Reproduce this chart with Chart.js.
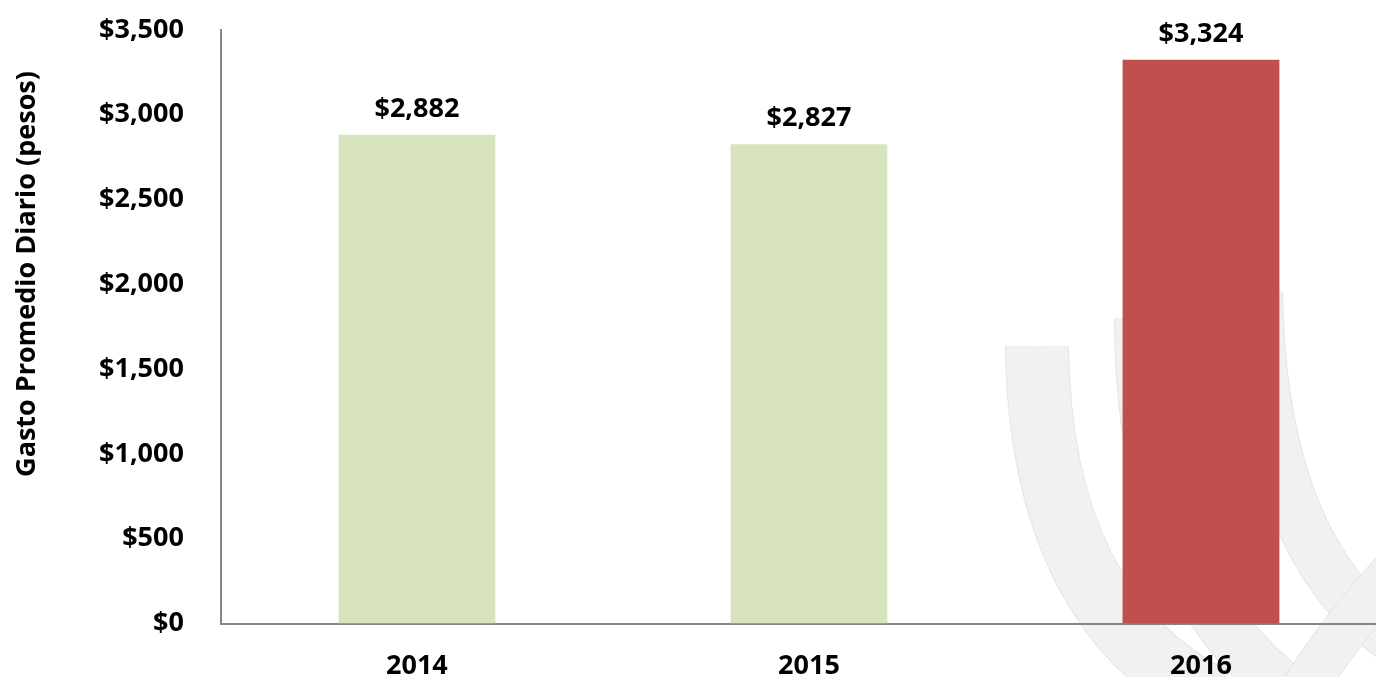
<!DOCTYPE html>
<html>
<head>
<meta charset="utf-8">
<script src="https://cdn.jsdelivr.net/npm/chart.js@4"></script>
<style>
  html, body { margin: 0; padding: 0; background: #fff; overflow: hidden; }
  #wrap { width: 1376px; height: 677px; overflow: hidden; }
  #inner { width: 1397px; height: 677px; }
</style>
</head>
<body>
<div id="wrap"><div id="inner"><canvas id="myChart" width="1397" height="677"></canvas></div></div>
<script>
const years = ['2014', '2015', '2016'];
const gasto = [2882, 2827, 3324];
const barColors = ['#d7e4bd', '#d7e4bd', '#c0504d'];
const yTicks = [0, 500, 1000, 1500, 2000, 2500, 3000, 3500];
const tituloY = 'Gasto Promedio Diario (pesos)';

const fuente = '"Open Sans", "Noto Sans", sans-serif';

function pesos(v) {
    return '$' + v.toLocaleString('en-US');
}

// marca de agua de fondo (arcos grises claros)
const marcaAgua = {
    id: 'marcaAgua',
    beforeDraw(chart) {
        const c = chart.ctx;
        c.save();
        const bandas = [
            [[1037, 346], [1040, 610], [1215, 700], 62],
            [[1140, 318], [1140, 590], [1300, 700], 50],
            [[1258, 292], [1262, 560], [1410, 650], 48],
            [[1300, 695], [1340, 630], [1400, 565], 44]
        ];
        bandas.forEach(b => {
            c.beginPath();
            c.moveTo(b[0][0], b[0][1]);
            c.quadraticCurveTo(b[1][0], b[1][1], b[2][0], b[2][1]);
            c.lineCap = 'butt';
            c.strokeStyle = '#e4e4e4';
            c.lineWidth = b[3] + 2;
            c.stroke();
            c.strokeStyle = '#f1f1f1';
            c.lineWidth = b[3];
            c.stroke();
        });
        c.restore();
    }
};

// etiquetas de valor encima de cada barra + titulo del eje Y
const etiquetas = {
    id: 'etiquetas',
    afterDatasetsDraw(chart) {
        const c = chart.ctx;
        const meta = chart.getDatasetMeta(0);
        c.save();
        c.font = 'bold 27px ' + fuente;
        c.fillStyle = '#000';
        c.textAlign = 'center';
        c.textBaseline = 'middle';
        meta.data.forEach((bar, i) => {
            c.fillText(pesos(gasto[i]), bar.x, bar.y - 26);
        });
        // titulo del eje Y (algo mas arriba que el centro del area)
        c.translate(27, 274);
        c.rotate(-Math.PI / 2);
        c.fillText(tituloY, 0, 0);
        c.restore();
    }
};

new Chart(document.getElementById('myChart'), {
    type: 'bar',
    data: {
        labels: years,
        datasets: [{
            data: gasto,
            backgroundColor: barColors,
            borderWidth: 0,
            categoryPercentage: 1.0,
            barPercentage: 0.4
        }]
    },
    options: {
        responsive: false,
        animation: false,
        layout: { padding: { top: 30, right: 0, left: 62, bottom: -33 } },
        plugins: {
            legend: { display: false },
            tooltip: { enabled: false }
        },
        scales: {
            x: {
                grid: { display: false, drawTicks: false },
                border: { display: true, color: '#868686', width: 2 },
                ticks: {
                    color: '#000',
                    font: { family: fuente, size: 27, weight: 'bold' },
                    padding: 27
                }
            },
            y: {
                min: 0,
                max: 3500,
                afterBuildTicks(axis) {
                    axis.ticks = yTicks.map(v => ({ value: v }));
                },
                afterFit(axis) {
                    // sin margen extra arriba/abajo por el padding de las etiquetas
                    axis.paddingTop = 0;
                    axis.paddingBottom = 0;
                },
                grid: { display: false, drawTicks: false },
                border: { display: true, color: '#868686', width: 2 },
                ticks: {
                    color: '#000',
                    font: { family: fuente, size: 27, weight: 'bold' },
                    padding: 37,
                    callback: v => pesos(v)
                }
            }
        }
    },
    plugins: [marcaAgua, etiquetas]
});
</script>
</body>
</html>
